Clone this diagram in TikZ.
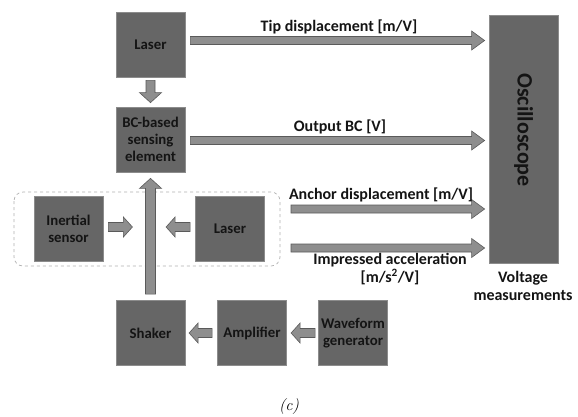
\documentclass[tikz,border=0pt]{standalone}
\usepackage{fontspec}
\setmainfont{Carlito}
\newfontfamily\lmfont{Latin Modern Roman}
\usetikzlibrary{calc}
\definecolor{boxfill}{HTML}{666666}
\definecolor{boxedge}{HTML}{8C8C8C}
\definecolor{arrfill}{HTML}{8E8E8E}
\definecolor{arredge}{HTML}{5A5A5A}
\definecolor{txt}{HTML}{141414}
\tikzset{
  blk/.style={draw=boxedge, line width=0.8pt, fill=boxfill, minimum width=69pt, minimum height=65pt,
    inner sep=0pt, align=center, font=\bfseries\fontsize{14.8}{17}\selectfont, text=txt},
  lbl/.style={font=\bfseries\fontsize{16}{18}\selectfont, text=txt, align=center, inner sep=0pt},
  barr/.style={fill=arrfill, draw=arredge, line width=0.6pt, line join=miter},
}
% block arrow: #1 start, #2 end, #3 shaft half width, #4 head half width, #5 head length
\newcommand\blockarrow[5]{%
  \coordinate (ba) at (#1);
  \coordinate (bb) at (#2);
  \coordinate (bn) at ($(bb)!#5pt!(ba)$);
  \filldraw[barr] ($(ba)!#3pt!90:(bb)$) -- ($(bn)!#3pt!-90:(ba)$) -- ($(bn)!#4pt!-90:(ba)$)
    -- (bb) -- ($(bn)!#4pt!90:(ba)$) -- ($(bn)!#3pt!90:(ba)$) -- ($(ba)!#3pt!-90:(bb)$) -- cycle;
}
\begin{document}
\begin{tikzpicture}[x=1pt,y=-1pt]
\useasboundingbox[fill=white] (0,0) rectangle (578,416);
% dashed group
\draw[draw=gray!60, dashed, line width=0.7pt, rounded corners=9pt] (14,192) rectangle (280,266);
% boxes
\node[blk] (laserA) at (150.5,44.5) {Laser};
\node[blk] (bc) at (150.5,139.5) {BC-based\\sensing\\element};
\node[blk] (inert) at (68.5,228.5) {Inertial\\sensor};
\node[blk] (laserB) at (230,228.5) {Laser};
\node[blk] (shaker) at (150.5,333) {Shaker};
\node[blk] (amp) at (252,333) {Amplifier};
\node[blk] (wave) at (353,333) {Waveform\\generator};
\node[blk, minimum width=69pt, minimum height=248pt] (osc) at (523.5,139) {};
\node[rotate=-90, font=\bfseries\fontsize{22}{24}\selectfont, text=txt] (osclbl) at ($(osc.center)+(0,-9)$) {Oscilloscope};
% connector coordinates
\coordinate (t1) at ($(laserA.east)+(5,-4)$);
\coordinate (t2) at (osc.west |- t1);
\coordinate (o1) at ($(bc.east)+(5,1)$);
\coordinate (o2) at (osc.west |- o1);
\coordinate (a1) at (291,209);
\coordinate (a2) at (osc.west |- a1);
\coordinate (i1) at (291,248);
\coordinate (i2) at (osc.west |- i1);
\blockarrow{t1}{$(t2)+(-4,0)$}{4}{9.5}{13}
\blockarrow{o1}{$(o2)+(-4,0)$}{4}{9.5}{13}
\blockarrow{a1}{$(a2)+(-4,0)$}{4}{9.5}{13}
\blockarrow{i1}{$(i2)+(-4,0)$}{4}{9.5}{13}
\blockarrow{$(laserA.south)+(0,3)$}{$(bc.north)+(0,-4)$}{4.5}{11}{10}
\blockarrow{$(shaker.north)+(0,-6)$}{$(bc.south)+(0,6)$}{5}{11}{10}
\blockarrow{$(inert.east)+(5,-1.5)$}{$(inert.east)+(29,-1.5)$}{4.5}{10}{9}
\blockarrow{$(laserB.west)+(-5,-1.5)$}{$(laserB.west)+(-29,-1.5)$}{4.5}{10}{9}
\blockarrow{$(amp.west)+(-5,0)$}{$(amp.west)+(-28,0)$}{4.5}{10}{9}
\blockarrow{$(wave.west)+(-3,0)$}{$(wave.west)+(-27,0)$}{4.5}{10}{9}
% labels
\node[lbl] (ltip) at (339,27) {Tip displacement [m/V]};
\node[lbl] (lout) at (340,127) {Output BC [V]};
\node[lbl] (lanc) at (381,195) {Anchor displacement [m/V]};
\node[lbl] (limp) at (390,269) {Impressed acceleration\\{[m/s\textsuperscript{2}/V]}};
\node[lbl] (lvolt) at (523,286) {Voltage\\measurements};
\node[font=\lmfont\itshape\fontsize{16}{18}\selectfont, inner sep=0pt] (cap) at (289,406) {(c)};
\end{tikzpicture}
\end{document}
